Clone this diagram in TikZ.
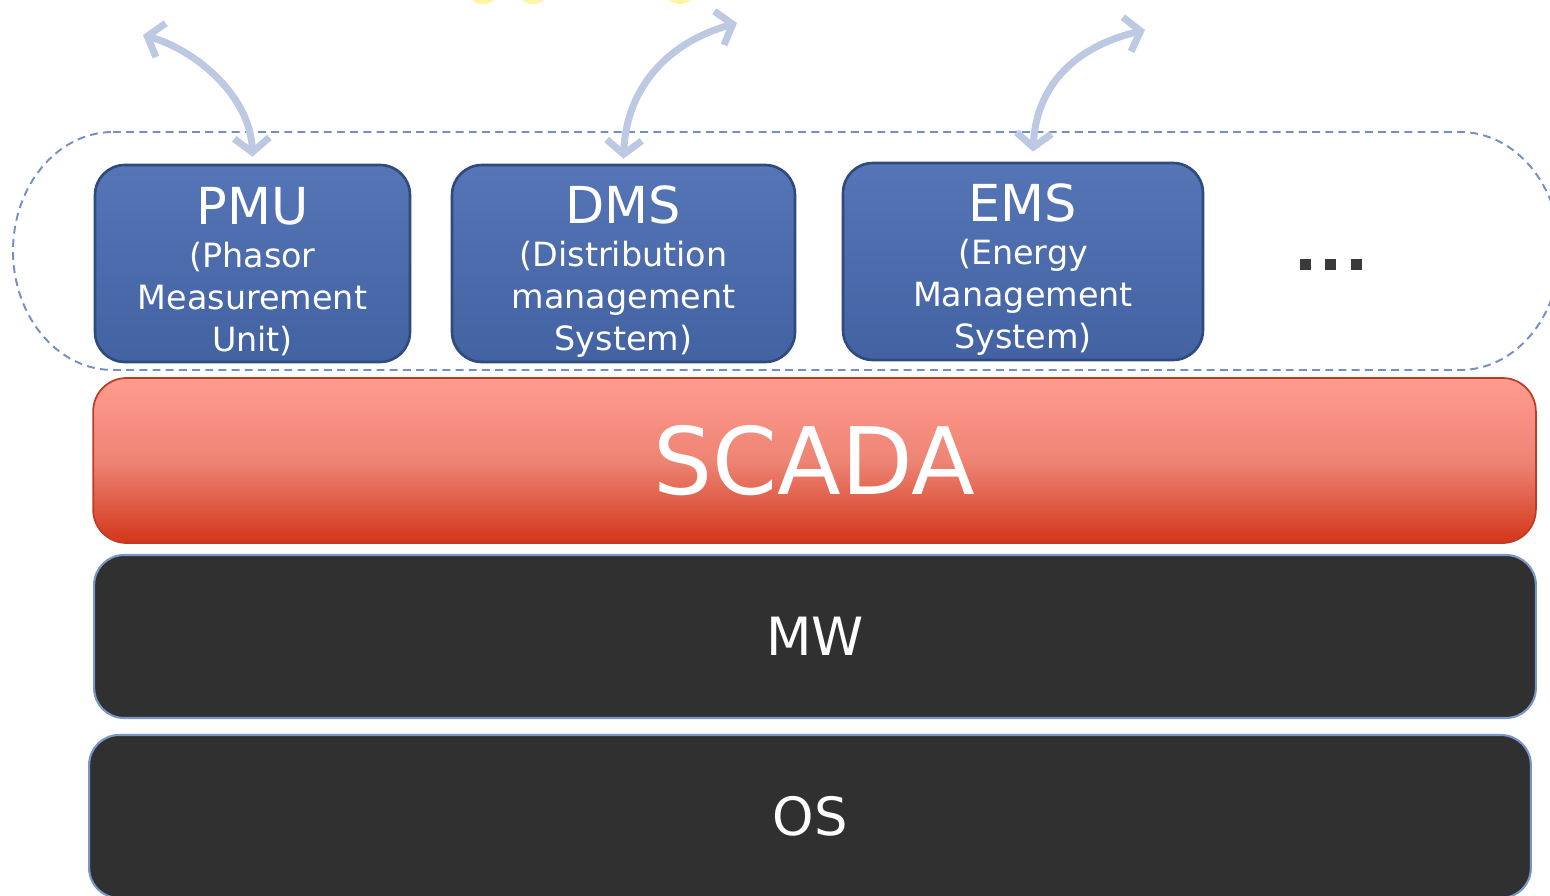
\documentclass[tikz,border=0pt]{standalone}
\usepackage{fontspec}
\setmainfont{DejaVu Sans}
\usetikzlibrary{calc,arrows.meta}

\definecolor{apptop}{HTML}{5575B6}
\definecolor{appbot}{HTML}{4262A2}
\definecolor{appedge}{HTML}{2E4A7E}
\definecolor{scadatop}{HTML}{FF9C8F}
\definecolor{scadamid}{HTML}{EE8474}
\definecolor{scadabot}{HTML}{D2361A}
\definecolor{scadaedge}{HTML}{BE3C24}
\definecolor{layerfill}{HTML}{303030}
\definecolor{layeredge}{HTML}{7A96C8}
\definecolor{groupline}{HTML}{7390C6}
\definecolor{linkblue}{HTML}{BDC9E3}
\definecolor{dotgray}{HTML}{3A3A3A}
\definecolor{sunglow}{HTML}{FFF3A6}

\begin{document}
\begin{tikzpicture}[x=0.02cm,y=-0.02cm,
  appbox/.style={draw=appedge, line width=1.5pt, rounded corners=17pt,
    top color=apptop, bottom color=appbot, minimum height=3.94cm},
  apptext/.style={text=white, align=center, inner sep=0pt,
    font=\fontsize{19}{23.8}\selectfont},
  layer/.style={draw=layeredge, line width=1.2pt, fill=layerfill,
    rounded corners=17pt, text=white, minimum width=28.84cm,
    minimum height=3.26cm, font=\fontsize{30}{36}\selectfont},
  link/.style={draw=linkblue, line width=4pt,
    {Straight Barb[length=8pt,width=20pt]}-{Straight Barb[length=8pt,width=20pt]}},
  group/.style={draw=groupline, line width=1.1pt, dash pattern=on 4.5pt off 3pt}
]
\useasboundingbox (0,0) rectangle (1550,895);
\clip (0,0) rectangle (1550,895);

% faint glow cut by the top edge
\foreach \x in {483,533,680}{
  \fill[sunglow] (\x,-6) ellipse [x radius=14, y radius=10];
}

% group of applications
\draw[group] (113,132) -- (1460,132)
  arc[start angle=-90, end angle=90, x radius=100, y radius=119]
  -- (113,370)
  arc[start angle=90, end angle=270, x radius=100, y radius=119] -- cycle;

\node[appbox, minimum width=6.3cm] (pmu) at (252.5,263.5) {};
\node[apptext] at ($(pmu)+(0,8)$)
  {{\fontsize{29}{34}\selectfont PMU}\\[1pt](Phasor\\Measurement\\Unit)};
\node[appbox, minimum width=6.86cm] (dms) at (623.5,263.5) {};
\node[apptext] at ($(dms)+(0,8)$)
  {{\fontsize{29}{34}\selectfont DMS}\\[1pt](Distribution\\management\\System)};
\node[appbox, minimum width=7.2cm] (ems) at (1023,261.5) {};
\node[apptext] at ($(ems)+(0,8)$)
  {{\fontsize{29}{34}\selectfont EMS}\\[1pt](Energy\\Management\\System)};

\foreach \x in {1305,1330,1356}{
  \fill[dotgray] (\x-5.5,259) rectangle +(11,11);
}

% layers
\node[draw=scadaedge, line width=1pt, rounded corners=19pt,
  top color=scadatop, bottom color=scadabot, middle color=scadamid,
  minimum width=28.86cm, minimum height=3.3cm, text=white,
  font=\fontsize{53}{60}\selectfont] (scada) at (814.5,460.5) {SCADA};

\node[layer] (mw) at (815,636.5) {MW};
\node[layer] (os) at (810,816.5) {OS};

% links to the outside
\coordinate (pmuout) at (143,35);
\coordinate (dmsout) at (737,23);
\coordinate (emsout) at (1145,30);
\draw[link] (pmuout) .. controls (195,50) and (250,95) .. ($(pmu.north)+(0,-7)$);
\draw[link] ($(dms.north)+(0,-5)$) .. controls (626,95) and (660,45) .. (dmsout);
\draw[link] ($(ems.north)+(10,-10)$) .. controls (1036,90) and (1070,48) .. (emsout);
\end{tikzpicture}
\end{document}
